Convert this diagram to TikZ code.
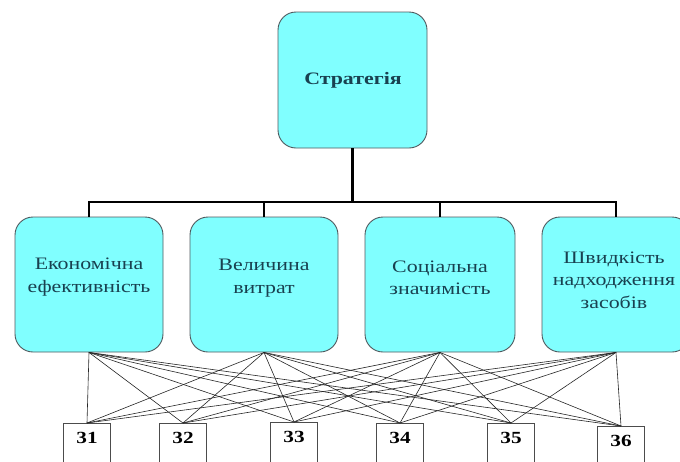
\documentclass[tikz,border=0pt]{standalone}
\usepackage{fontspec}
\setmainfont{Liberation Serif}
\newfontfamily\boxfont{Liberation Serif}[FakeStretch=1.25]
\definecolor{boxfill}{RGB}{128,255,255}
\definecolor{boxline}{RGB}{80,90,95}
\definecolor{boxtext}{RGB}{25,65,80}
\begin{document}
\begin{tikzpicture}[x=1pt,y=-1pt,
  bigbox/.style={draw=boxline, line width=0.9pt, fill=boxfill, rounded corners=18pt,
    minimum width=148pt, minimum height=135pt, inner sep=0pt},
  boxlabel/.style={align=center, text=boxtext, inner sep=0pt,
    font=\boxfont\fontsize{17.5}{22.5}\selectfont},
  numbox/.style={draw=black!70, line width=0.7pt, fill=white, minimum width=47pt,
    minimum height=45pt, inner sep=0pt, text height=20pt, text depth=25pt,
    anchor=north, font=\boxfont\fontsize{17}{17}\selectfont\bfseries},
  tree/.style={line width=2.4pt, black},
  link/.style={line width=0.6pt, black!85}]
\useasboundingbox (0,0) rectangle (680,461);
\fill[white] (0,0) rectangle (680,461);
\node[bigbox, minimum width=149pt, minimum height=136pt] (s) at (352.5,80) {};
\node[boxlabel, font=\boxfont\fontsize{17.5}{22}\selectfont\bfseries] (st) at (353,80) {Стратегія};
\node[bigbox] (a) at (89,284.5) {};
\node[bigbox] (b) at (264,284.5) {};
\node[bigbox, minimum width=150pt] (c) at (440,284.5) {};
\node[bigbox] (d) at (616,284.5) {};
\node[boxlabel] (at) at (89,277) {Економічна\\ефективність};
\node[boxlabel] (bt) at (264,278) {Величина\\витрат};
\node[boxlabel] (ct) at (440,278) {Соціальна\\значимість};
\node[boxlabel] (dt) at (614,280) {Швидкість\\надходження\\засобів};
\coordinate (bar) at (352.5,202);
\draw[tree] (s.south) -- (bar);
\draw[tree] (a.north) |- (bar) -| (d.north);
\draw[tree] (b.north) -- (b.north |- bar);
\draw[tree] (c.north) -- (c.north |- bar);
\node[numbox] (n1) at (87,423) {31};
\node[numbox] (n2) at (183,423) {32};
\node[numbox] (n3) at (294,422) {33};
\node[numbox] (n4) at (400,423) {34};
\node[numbox] (n5) at (511,423) {35};
\node[numbox] (n6) at (621,426) {36};
\foreach \t in {a,b,c,d}{
  \foreach \n in {n1,n2,n3,n4,n5,n6}{
    \draw[link] (\t.south) -- (\n.north);
  }
}
\end{tikzpicture}
\end{document}
